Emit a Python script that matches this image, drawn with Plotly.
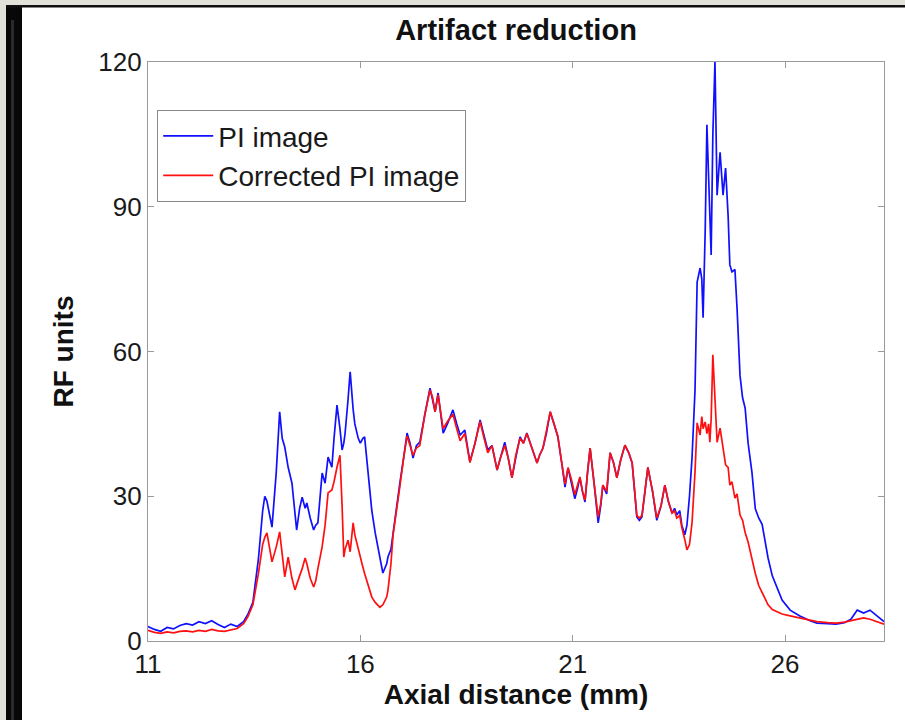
import plotly.graph_objects as go

# Axial distance (mm)
axial_mm = [
    11.0, 11.15, 11.3, 11.45, 11.6, 11.75, 11.9, 12.05, 12.2, 12.35, 12.5, 12.65, 12.8, 12.95,
    13.1, 13.25, 13.35, 13.47, 13.6, 13.7, 13.75, 13.8, 13.92, 14.02, 14.1, 14.16, 14.22, 14.3,
    14.39, 14.46, 14.5, 14.57, 14.63, 14.7, 14.74, 14.82, 14.9, 14.95, 15.0, 15.1, 15.17, 15.24,
    15.33, 15.38, 15.45, 15.52, 15.57, 15.61, 15.64, 15.71, 15.76, 15.83, 15.87, 15.95, 16.0,
    16.06, 16.1, 16.17, 16.23, 16.27, 16.35, 16.46, 16.53, 16.62, 16.65, 16.72, 16.77, 16.85,
    16.93, 17.02, 17.1, 17.17, 17.24, 17.32, 17.4, 17.52, 17.64, 17.7, 17.76, 17.83, 17.95,
    18.05, 18.18, 18.27, 18.35, 18.46, 18.58, 18.7, 18.82, 18.9, 19.0, 19.1, 19.22, 19.3, 19.4,
    19.48, 19.57, 19.66, 19.76, 19.84, 19.92, 20.04, 20.16, 20.22, 20.3, 20.38, 20.47, 20.56,
    20.65, 20.74, 20.82, 20.89, 20.97, 21.05, 21.11, 21.17, 21.23, 21.29, 21.35, 21.41, 21.5,
    21.6, 21.66, 21.71, 21.8, 21.88, 21.96, 22.04, 22.13, 22.23, 22.32, 22.4, 22.51, 22.57,
    22.63, 22.7, 22.77, 22.88, 22.98, 23.08, 23.17, 23.25, 23.34, 23.4, 23.45, 23.52, 23.57,
    23.64, 23.69, 23.75, 23.81, 23.88, 23.93, 24.0, 24.04, 24.07, 24.12, 24.16, 24.2, 24.23,
    24.26, 24.3, 24.35, 24.4, 24.47, 24.54, 24.6, 24.66, 24.7, 24.75, 24.82, 24.87, 24.94,
    25.0, 25.06, 25.13, 25.22, 25.3, 25.38, 25.46, 25.53, 25.6, 25.7, 25.81, 25.93, 26.12,
    26.35, 26.59, 26.75, 27.0, 27.2, 27.4, 27.55, 27.7, 27.85, 28.0, 28.17, 28.33,
]

# PI image (RF units)
pi_image = [
    3.0, 2.4, 2.0, 2.8, 2.5, 3.2, 3.6, 3.3, 4.0, 3.6, 4.2, 3.4, 2.8, 3.5,
    3.0, 4.0, 5.5, 8.0, 17.0, 27.0, 30.0, 29.0, 23.6, 35.0, 47.5, 42.0, 40.2, 36.0,
    32.7, 26.0, 23.0, 27.5, 29.8, 27.5, 28.6, 25.5, 23.0, 24.0, 24.5, 34.8, 32.7, 38.1,
    36.0, 42.0, 48.9, 44.0, 39.6, 41.0, 43.0, 50.0, 55.8, 48.0, 45.0, 42.0, 41.0,
    42.0, 42.3, 36.0, 29.8, 27.0, 22.4, 17.0, 14.1, 16.0, 17.4, 19.0, 22.4, 27.0,
    32.7, 38.0, 43.1, 41.0, 37.9, 40.5, 41.2, 47.0, 52.4, 50.0, 47.5, 51.4, 43.1,
    45.0, 47.9, 45.0, 42.7, 43.7, 37.1, 41.0, 45.8, 43.0, 39.6, 40.5, 35.4, 38.0, 41.2,
    38.0, 33.8, 38.0, 42.3, 41.0, 43.1, 40.0, 36.9, 38.5, 40.0, 43.0, 47.5, 45.0,
    42.3, 37.0, 31.9, 35.9, 33.0, 29.5, 31.5, 33.8, 31.0, 28.8, 35.0, 40.0, 33.0,
    24.5, 28.0, 32.3, 30.5, 39.0, 37.0, 33.8, 37.5, 40.6, 39.0, 36.9, 25.7, 25.0,
    25.7, 31.0, 36.0, 31.0, 25.0, 28.0, 32.3, 29.0, 26.5, 27.5, 26.1, 27.0, 24.0,
    22.0, 24.0, 30.0, 38.0, 52.0, 74.4, 77.3, 75.0, 67.0, 85.0, 107.0, 95.0, 85.0,
    80.0, 105.0, 120.0, 92.4, 101.3, 92.4, 98.0, 88.0, 78.0, 76.5, 77.0, 69.0, 55.0,
    50.4, 48.3, 41.0, 35.0, 27.4, 25.5, 24.2, 21.0, 17.2, 13.5, 11.0, 8.5, 6.4,
    5.2, 4.2, 3.7, 3.6, 3.5, 3.8, 4.5, 6.4, 5.8, 6.4, 5.2, 4.0,
]

# Corrected PI image (RF units)
corrected_pi_image = [
    2.2, 1.8, 1.6, 1.9, 1.7, 2.0, 2.1, 1.9, 2.2, 2.0, 2.4, 2.1, 2.0, 2.3,
    2.6, 3.6, 5.0, 7.5, 14.0, 20.0, 21.5, 22.4, 16.4, 19.5, 22.6, 18.0, 13.3, 17.4,
    13.0, 10.6, 11.5, 13.5, 15.0, 17.2, 16.0, 13.0, 11.2, 12.5, 15.0, 19.5, 24.0, 30.7,
    31.3, 33.0, 36.0, 38.5, 28.0, 17.4, 19.0, 20.9, 18.5, 24.5, 22.0, 19.0, 17.0,
    15.3, 14.0, 12.0, 10.5, 9.1, 8.0, 7.0, 7.5, 9.1, 10.5, 16.0, 22.0, 26.5,
    32.0, 38.0, 42.5, 40.5, 38.5, 40.0, 40.5, 47.0, 52.0, 50.5, 47.5, 51.0, 44.0,
    45.5, 47.0, 44.0, 41.5, 43.0, 37.0, 41.0, 45.5, 42.5, 39.0, 40.5, 35.5, 38.0, 40.5,
    38.0, 33.8, 38.5, 42.0, 41.0, 43.0, 40.0, 36.9, 38.5, 40.0, 43.5, 47.5, 45.0,
    42.5, 37.0, 32.5, 35.9, 33.5, 30.3, 32.0, 34.0, 31.0, 29.2, 35.0, 40.0, 33.0,
    25.7, 28.5, 32.3, 31.0, 39.0, 37.0, 33.8, 37.5, 40.6, 39.0, 36.9, 26.0, 25.5,
    26.0, 31.0, 36.0, 31.0, 25.5, 28.0, 32.3, 29.0, 26.5, 27.0, 25.5, 26.0, 23.5,
    21.0, 18.9, 20.0, 24.5, 35.0, 45.2, 42.7, 46.5, 44.0, 45.4, 43.0, 45.0, 41.2,
    46.0, 59.3, 50.0, 41.2, 44.1, 40.0, 36.5, 36.0, 32.3, 33.0, 29.6, 30.5, 26.1,
    25.0, 22.5, 20.5, 17.0, 14.0, 11.5, 10.0, 8.5, 7.5, 6.5, 6.0, 5.6, 5.2,
    4.8, 4.4, 4.0, 3.8, 3.7, 3.9, 4.2, 4.6, 4.8, 4.5, 4.0, 3.5,
]

x_ticks = [11, 16, 21, 26]
y_ticks = [0, 30, 60, 90, 120]

FONT = "Liberation Sans, Arial, sans-serif"

fig = go.Figure()
fig.add_trace(go.Scatter(x=axial_mm, y=pi_image, mode="lines", name="PI image",
                         line=dict(color="#1010ff", width=1.7)))
fig.add_trace(go.Scatter(x=axial_mm, y=corrected_pi_image, mode="lines",
                         name="Corrected PI image",
                         line=dict(color="#ff1010", width=1.7)))

# plot area pixel geometry
L, R, T, B = 148, 884, 62, 641
W, H = 905, 720


def px(xp):
    return (xp - L) / (R - L)


def py(yp):
    return (B - yp) / (B - T)


shapes = [
    # left grey strip
    dict(type="rect", xref="paper", yref="paper", x0=px(0), x1=px(6), y0=py(H), y1=py(0),
         fillcolor="#e2e2da", line_width=0, layer="above"),
    # left black bar
    dict(type="rect", xref="paper", yref="paper", x0=px(6), x1=px(22), y0=py(H), y1=py(6),
         fillcolor="#080808", line_width=0, layer="above"),
    dict(type="rect", xref="paper", yref="paper", x0=px(11), x1=px(14), y0=py(H), y1=py(20),
         fillcolor="#2a2a2a", line_width=0, layer="above"),
    # top grey strip
    dict(type="rect", xref="paper", yref="paper", x0=px(0), x1=px(W), y0=py(5), y1=py(0),
         fillcolor="#e2e2da", line_width=0, layer="above"),
    # top black line
    dict(type="rect", xref="paper", yref="paper", x0=px(6), x1=px(W), y0=py(7.5), y1=py(5),
         fillcolor="#101010", line_width=0, layer="above"),
]

axis_common = dict(
    showgrid=False, zeroline=False, showline=True, linecolor="#9a9a9a", linewidth=1.2,
    mirror="ticks", ticks="inside", ticklen=6, tickcolor="#9a9a9a", tickwidth=1.2,
    tickfont=dict(family=FONT, size=26, color="#1a1a1a"),
)

fig.update_layout(
    width=W, height=H,
    margin=dict(l=L, r=W - R, t=T, b=H - B, pad=0),
    paper_bgcolor="white", plot_bgcolor="white",
    showlegend=True,
    title=dict(text="<b>Artifact reduction</b>", x=0.5, xref="paper", xanchor="center",
               y=1 - 30 / H, yref="container", yanchor="middle",
               font=dict(family=FONT, size=29, color="#111111")),
    xaxis=dict(range=[11, 28.33], tickvals=x_ticks, ticktext=[str(v) for v in x_ticks],
               title=dict(text="<b>Axial distance (mm)</b>", standoff=4,
                          font=dict(family=FONT, size=28, color="#111111")),
               **axis_common),
    yaxis=dict(range=[0, 120], tickvals=y_ticks, ticktext=[str(v) for v in y_ticks],
               title=dict(text="<b>RF units</b>", standoff=16,
                          font=dict(family=FONT, size=28, color="#111111")),
               **axis_common),
    legend=dict(x=px(157), y=py(110), xanchor="left", yanchor="top",
                bgcolor="white", bordercolor="#8a8a8a", borderwidth=1.2,
                font=dict(family=FONT, size=28, color="#1a1a1a"),
                tracegroupgap=0, itemwidth=50),
    shapes=shapes,
)

fig.write_html("out.html", config={"displayModeBar": False},
               post_script="document.body.style.margin='0';document.body.style.padding='0';")
